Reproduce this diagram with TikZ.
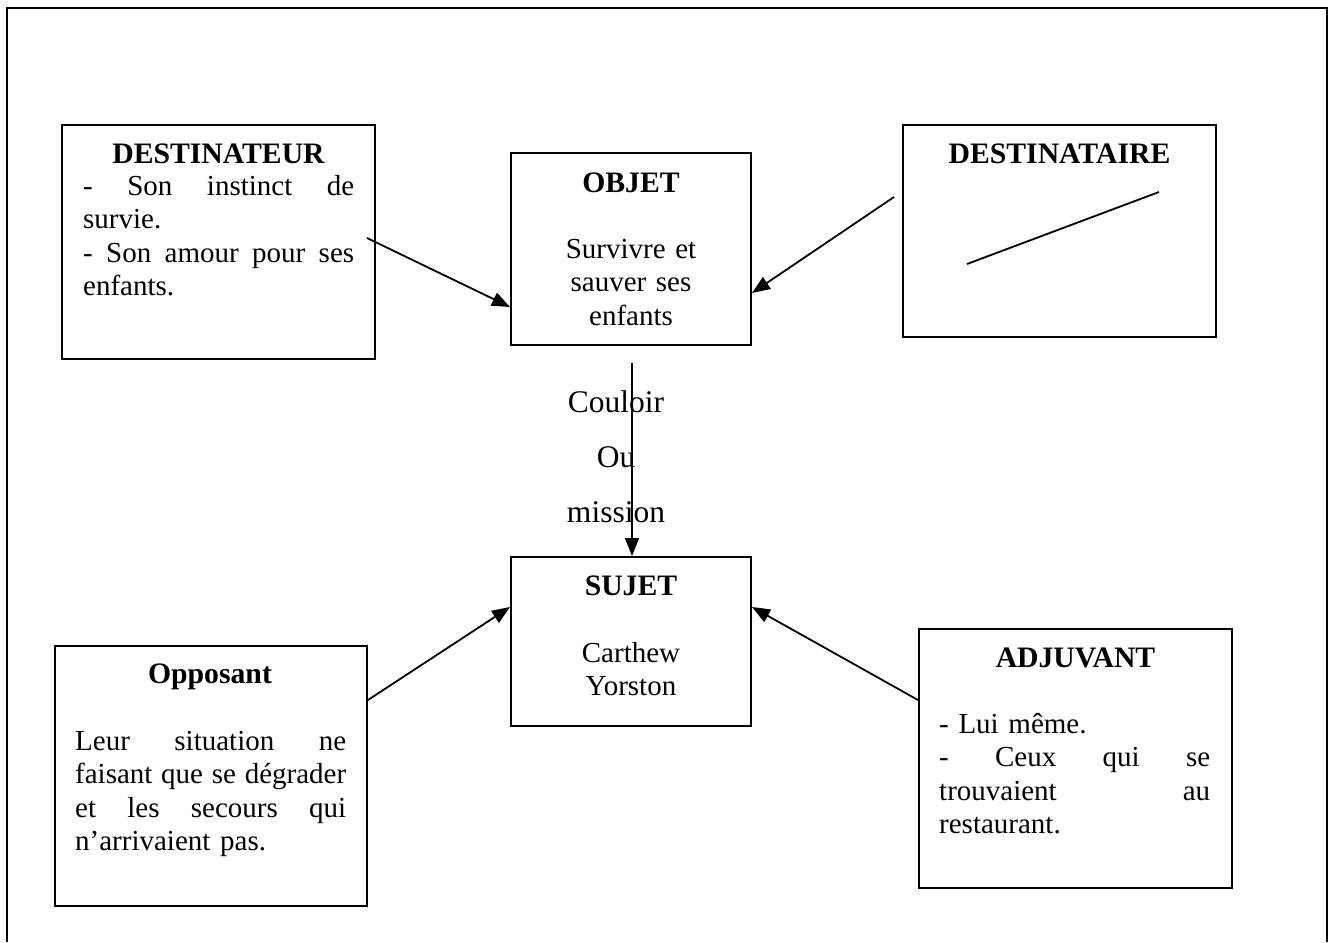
\documentclass[tikz,border=0pt]{standalone}
\usepackage{fontspec}
\setmainfont{Liberation Serif}
\usetikzlibrary{arrows.meta}
\begin{document}
\begin{tikzpicture}[x=1pt,y=-1pt,
  every node/.style={font=\fontsize{29pt}{33.5pt}\selectfont, inner sep=0pt},
  box/.style 2 args={draw, line width=2pt, minimum width=#1, minimum height=#2},
  title/.style={font=\fontsize{29.7pt}{33.5pt}\selectfont\bfseries, anchor=base},
  body/.style={text width=271pt, align=left, anchor=base west},
  centred/.style={text width=240pt, align=center, anchor=base},
  link/.style={line width=1.8pt, -{Triangle[length=18pt,width=14pt]}}
]
\useasboundingbox (0,0) rectangle (1332,942);

% open frame round the schema
\draw[line width=2.2pt] (7,942) -- (7,8) -- (1327,8) -- (1327,942);

% boxes
\node[box={313pt}{234pt}] (dtr) at (218.5,242) {};
\node[box={240pt}{192pt}] (obj) at (631,249) {};
\node[box={313pt}{212pt}] (dta) at (1059.5,231) {};
\node[box={240pt}{169pt}] (suj) at (631,641.5) {};
\node[box={312pt}{260pt}] (opp) at (211,776) {};
\node[box={313pt}{259pt}] (adj) at (1075.5,758.5) {};

% titles
\node[title] (dtrT) at (218.5,163) {DESTINATEUR};
\node[title] (objT) at (631,192) {OBJET};
\node[title] (dtaT) at (1059.5,163) {DESTINATAIRE};
\node[title] (sujT) at (631,595) {SUJET};
\node[title] (oppT) at (210,683) {Opposant};
\node[title] (adjT) at (1075.5,667) {ADJUVANT};

% contents
\node[body] (dtrB) at (83,195) {\makebox[\linewidth]{-\hfill Son\hfill instinct\hfill de}\\
  survie.\\
  \makebox[\linewidth]{-\hfill Son\hfill amour\hfill pour\hfill ses}\\
  enfants.};
\node[centred] (objB) at (631,258) {Survivre et\\ sauver ses\\ enfants};
\node[centred] (sujB) at (631,662) {Carthew\\ Yorston};
\node[body] (oppB) at (75,750) {\makebox[\linewidth]{Leur\hfill situation\hfill ne}\\
  \makebox[\linewidth]{faisant\hfill que\hfill se\hfill dégrader}\\
  \makebox[\linewidth]{et\hfill les\hfill secours\hfill qui}\\
  n’arrivaient pas.};
\node[body] (adjB) at (939,733) {- Lui même.\\
  \makebox[\linewidth]{-\hfill Ceux\hfill qui\hfill se}\\
  \makebox[\linewidth]{trouvaient\hfill au}\\
  restaurant.};

% stroke inside the DESTINATAIRE box
\coordinate (dtaL) at (967,264);
\coordinate (dtaR) at (1159,192);
\draw[line width=1.8pt] (dtaL) -- (dtaR);

% label of the vertical axis
\node[text width=140pt, align=center, anchor=base,
      font=\fontsize{31.5pt}{55pt}\selectfont] (axis) at (616,412) {Couloir\\ Ou\\ mission};

% connectors
\draw[link] ([xshift=-9pt,yshift=4pt]dtr.east) -- ([yshift=-58pt]obj.west);
\draw[link] ([xshift=-8pt,yshift=34pt]dta.west) -- ([yshift=-44pt]obj.east);
\draw[link] ([xshift=1pt,yshift=-17pt]obj.south) -- ([xshift=1pt]suj.north);
\draw[link] ([yshift=76pt]opp.east) -- ([yshift=34.5pt]suj.west);
\draw[link] ([yshift=58.5pt]adj.west) -- ([yshift=34.5pt]suj.east);
\end{tikzpicture}
\end{document}
